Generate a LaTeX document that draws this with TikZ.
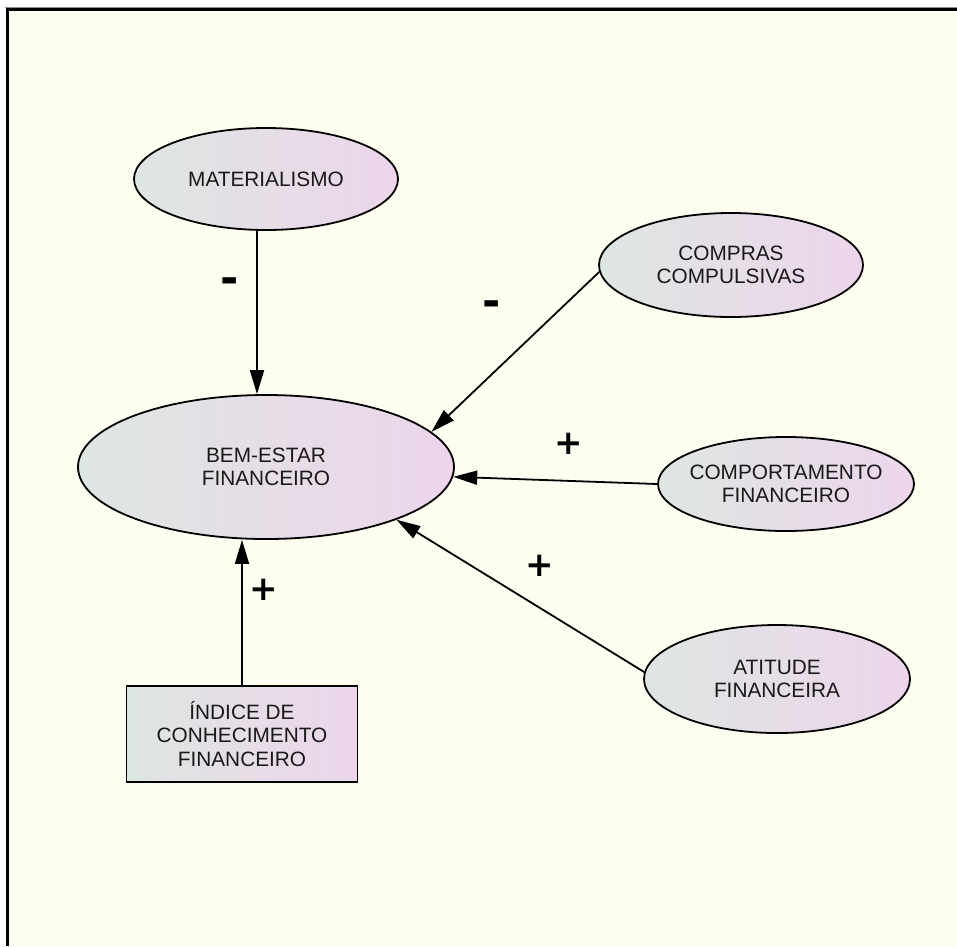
\documentclass[tikz,border=0pt]{standalone}
\usepackage{fontspec}
\setmainfont{Liberation Sans}
\newfontfamily\signfont{DejaVu Sans}
\usetikzlibrary{shapes.geometric,arrows.meta}
\definecolor{bgivory}{RGB}{254,254,240}
\definecolor{gleft}{RGB}{222,230,226}
\definecolor{gright}{RGB}{237,213,235}
\definecolor{txt}{RGB}{25,25,25}
\begin{document}
\begin{tikzpicture}[x=1pt,y=-1pt,
  concept/.style={ellipse, draw=black, line width=1.8pt, left color=gleft, right color=gright,
    inner sep=0pt, inner xsep=-25pt, font=\fontsize{20.8}{23.5}\selectfont, text=txt, align=center},
  boxnode/.style={rectangle, draw=black, line width=1.8pt, left color=gleft, right color=gright,
    inner sep=0pt, font=\fontsize{20.8}{23.5}\selectfont, text=txt, align=center},
  link/.style={line width=1.8pt, -{Triangle[length=24pt,width=14pt]}},
  plussign/.style={font=\signfont\bfseries\fontsize{34}{34}\selectfont, inner sep=0pt},
  minussign/.style={font=\signfont\bfseries\fontsize{44}{44}\selectfont, inner sep=0pt}
]
\useasboundingbox (0,0) rectangle (957,946);
\fill[white] (0,0) rectangle (957,946);
\fill[bgivory] (9,10) rectangle (957,946);
\draw[black!45, line width=1pt] (5,7) -- (957,7);
\draw[black, line width=3pt] (6,9.5) -- (957,9.5);
\draw[black, line width=3pt] (7.5,8) -- (7.5,946);

\node[concept, minimum width=264pt, minimum height=102pt] (mat) at (266,179) {MATERIALISMO};
\node[concept, minimum width=376pt, minimum height=144pt] (bem) at (266,467) {BEM-ESTAR\\FINANCEIRO};
\node[concept, minimum width=264pt, minimum height=104pt] (comp) at (731,265) {COMPRAS\\COMPULSIVAS};
\node[concept, minimum width=256pt, minimum height=94pt] (cpt) at (786,484) {COMPORTAMENTO\\FINANCEIRO};
\node[concept, minimum width=266pt, minimum height=108pt] (att) at (777,679) {ATITUDE\\FINANCEIRA};
\node[boxnode, minimum width=231pt, minimum height=96pt] (idx) at (242,734) {ÍNDICE DE\\CONHECIMENTO\\FINANCEIRO};

\draw[link] ([xshift=-9pt]mat.south) -- ([xshift=-9pt]mat.south |- bem.north);
\draw[link] (comp.183) -- (bem.12);
\draw[link] (cpt.west) -- (bem.-3);
\draw[link] (att.177) -- (bem.-22);
\draw[link] (idx.north) -- (idx.north |- bem.south);

\node[minussign] (s1) at (230,286) {-};
\node[minussign] (s2) at (492,309) {-};
\node[plussign] (s3) at (569,444) {+};
\node[plussign] (s4) at (540,566) {+};
\node[plussign] (s5) at (264,590) {+};
\end{tikzpicture}
\end{document}
